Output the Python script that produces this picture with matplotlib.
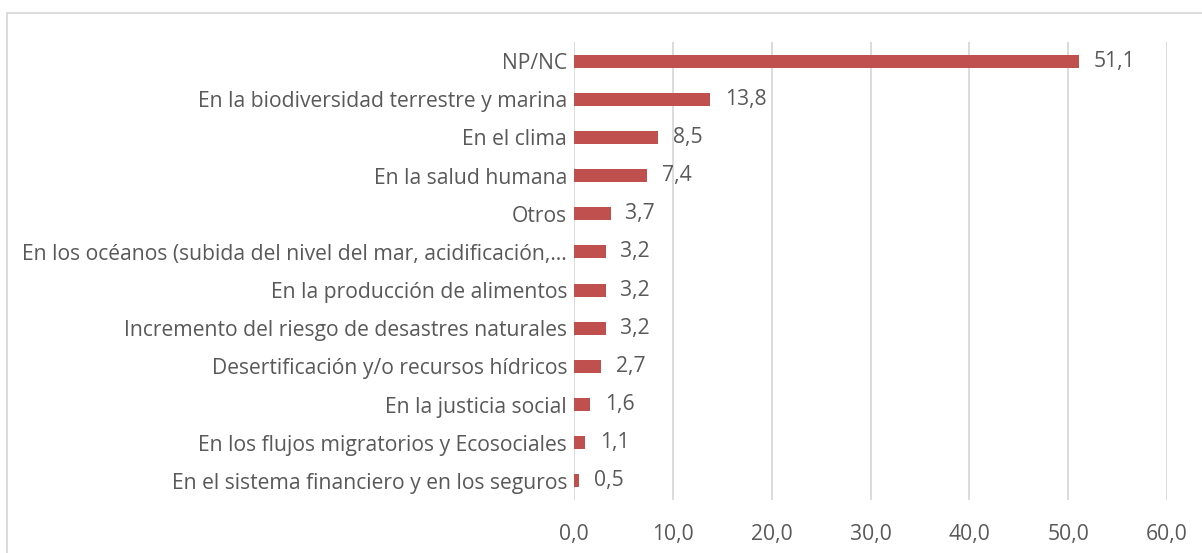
import matplotlib
matplotlib.use("Agg")
import matplotlib.pyplot as plt
from matplotlib.patches import Rectangle

categorias = [
    "NP/NC",
    "En la biodiversidad terrestre y marina",
    "En el clima",
    "En la salud humana",
    "Otros",
    "En los océanos (subida del nivel del mar, acidificación,…",
    "En la producción de alimentos",
    "Incremento del riesgo de desastres naturales",
    "Desertificación y/o recursos hídricos",
    "En la justicia social",
    "En los flujos migratorios y Ecosociales",
    "En el sistema financiero y en los seguros",
]
valores = [51.1, 13.8, 8.5, 7.4, 3.7, 3.2, 3.2, 3.2, 2.7, 1.6, 1.1, 0.5]
ticks_x = [0, 10, 20, 30, 40, 50, 60]

texto = "#595959"
rojo = "#C0504D"
plt.rcParams['font.family'] = ['Open Sans', 'DejaVu Sans']
fs = 15.2

fig = plt.figure(figsize=(12.02, 5.53), dpi=100)
ax = fig.add_axes([574/1202, 53/553, (1167-574)/1202, (511-53)/553])

y = list(range(len(categorias)))
ax.barh(y, valores, height=0.34, color=rojo, zorder=3)
for yi, v in zip(y, valores):
    ax.text(v + 1.5, yi, "{:.1f}".format(v).replace(".", ","), va="center", ha="left",
            fontsize=fs, color=texto)

ax.set_yticks(y)
ax.set_yticklabels(categorias, fontsize=fs, color=texto)
ax.set_ylim(len(categorias) - 0.5, -0.5)
ax.set_xlim(0, 60)
ax.set_xticks(ticks_x)
ax.set_xticklabels(["{:.1f}".format(t).replace(".", ",") for t in ticks_x], fontsize=fs, color=texto)
ax.tick_params(axis="both", length=0)
ax.tick_params(axis="x", pad=17)
ax.tick_params(axis="y", pad=5)
ax.grid(axis="x", color="#D9D9D9", linewidth=1.3, zorder=0)
for s in ax.spines.values():
    s.set_visible(False)

fig.patches.append(Rectangle((7/1202, -0.1), 1.2, (553-13)/553 + 0.1, transform=fig.transFigure,
                             fill=False, edgecolor="#D9D9D9", linewidth=1.3))

fig.savefig("out.png", dpi=100)
